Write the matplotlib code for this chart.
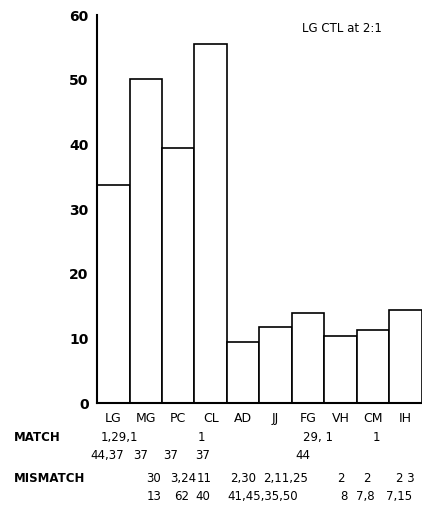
import matplotlib.pyplot as plt

# bar chart data
cats = ['LG', 'MG', 'PC', 'CL', 'AD', 'JJ', 'FG', 'VH', 'CM', 'IH']
vals = [33.7, 50.2, 39.4, 55.6, 9.4, 11.8, 13.9, 10.4, 11.3, 14.4]

# annotation rows under the chart
match1 = ['1,29,1', '1', '29, 1', '1']
match2 = ['44,37', '37', '37', '37', '44']
mismatch1 = ['30', '3,24', '11', '2,30', '2,11,25', '2', '2', '2 3']
mismatch2 = ['13', '62', '40', '41,45,35,50', '8', '7,8', '7,15']

# x positions (in bar units) of the annotation strings
match1_x = [0.2, 2.7, 6.3, 8.1]
match2_x = [-0.2, 0.85, 1.75, 2.75, 5.85]
mismatch1_x = [1.25, 2.15, 2.8, 4.0, 5.3, 7.0, 7.8, 9.0]
mismatch2_x = [1.25, 2.1, 2.75, 4.6, 7.1, 7.75, 8.8]

fig = plt.figure(figsize=(4.22, 5.11), dpi=100)
ax = fig.add_axes([0.2299, 0.2113, 0.770, 0.759])

x = list(range(len(cats)))
ax.bar(x, vals, width=1.0, color='white', edgecolor='black', linewidth=1.2)
ax.set_xlim(-0.5, 9.5)
ax.set_ylim(0, 60)
ax.set_yticks([0, 10, 20, 30, 40, 50, 60])
ax.set_xticks([])
ax.tick_params(axis='y', length=0, pad=6, labelsize=10)
for lab in ax.get_yticklabels():
    lab.set_fontweight('bold')
ax.spines['top'].set_visible(False)
ax.spines['right'].set_visible(False)
ax.spines['left'].set_linewidth(1.5)
ax.spines['bottom'].set_linewidth(1.5)

ax.text(0.754, 0.965, 'LG CTL at 2:1', transform=ax.transAxes, ha='center',
        va='center', fontsize=8.5)

tr = ax.get_xaxis_transform()
fs = 8.5
for i, c in enumerate(cats):
    ax.text(i, -0.04, c, transform=tr, ha='center', va='center', fontsize=9)

ax.text(-3.05, -0.09, 'MATCH', transform=tr, ha='left', va='center',
        fontsize=fs, fontweight='bold')
ax.text(-3.05, -0.195, 'MISMATCH', transform=tr, ha='left', va='center',
        fontsize=fs, fontweight='bold')

rows = [(match1, match1_x, -0.09), (match2, match2_x, -0.135),
        (mismatch1, mismatch1_x, -0.195), (mismatch2, mismatch2_x, -0.24)]
for texts, xs, yy in rows:
    for t, xx in zip(texts, xs):
        ax.text(xx, yy, t, transform=tr, ha='center', va='center', fontsize=fs)

fig.savefig('out.png', dpi=100)
